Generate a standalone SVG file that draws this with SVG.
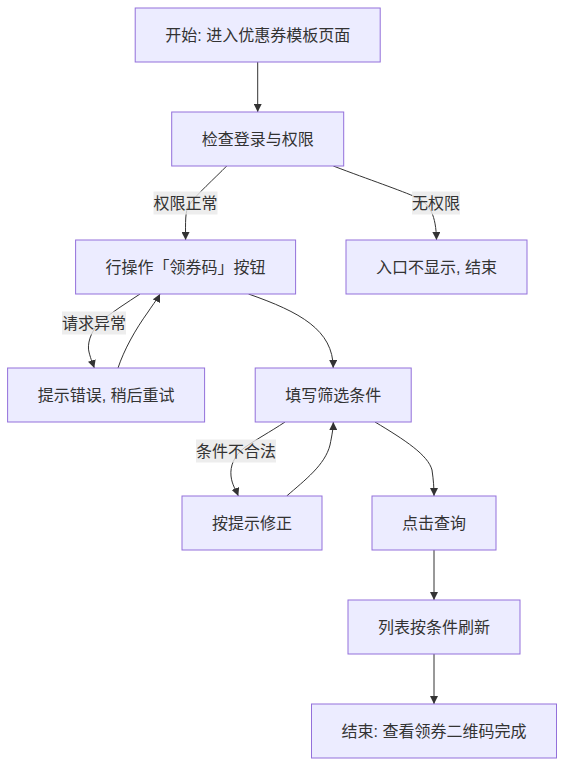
<svg xmlns="http://www.w3.org/2000/svg" width="564" height="766" viewBox="0 0 564 766">
<style>
.node rect{fill:#ECECFF;stroke:#9370DB;stroke-width:1}
text{font-family:"Liberation Sans","Noto Sans CJK SC",sans-serif;font-size:16px;fill:#333;text-anchor:middle;dominant-baseline:central}
.edge{fill:none;stroke:#333;stroke-width:1}
.lbl rect{fill:#e8e8e8;fill-opacity:0.8;stroke:none}
</style>
<defs>
<marker id="arr" viewBox="0 0 10 10" refX="10" refY="5" markerWidth="8" markerHeight="8" markerUnits="userSpaceOnUse" orient="auto">
<path d="M0,0 L10,5 L0,10 z" fill="#333"/>
</marker>
</defs>
<rect width="564" height="766" fill="#fff"/>
<g id="edges">
<path class="edge" d="M257.7,62 L257.7,112" marker-end="url(#arr)"/>
<path class="edge" d="M226.7,166 C215,178 196,195 189,205 C185,211 185.5,222 185.6,240" marker-end="url(#arr)"/>
<path class="edge" d="M333.3,166 C370,180 400,190 418,198 C430,205 436,215 436.5,240" marker-end="url(#arr)"/>
<path class="edge" d="M140,294 C128,302 112,312 100,322 C90,332 87,345 89,352 C91,360 93,364 94.3,368" marker-end="url(#arr)"/>
<path class="edge" d="M118,368 C124,350 135,330 148,312 C154,303 158,298 160,294" marker-end="url(#arr)"/>
<path class="edge" d="M248.5,294 C300,312 333.2,330 333.2,368" marker-end="url(#arr)"/>
<path class="edge" d="M285,422 C270,432 255,440 244,448 C234,456 230,466 231,476 C232,485 236,490 238.3,496" marker-end="url(#arr)"/>
<path class="edge" d="M286.7,496 C305,480 325,465 330,445 C332,435 333.3,428 333.3,422" marker-end="url(#arr)"/>
<path class="edge" d="M375,422 C405,440 428,455 432,470 C433.5,480 434,488 434,496" marker-end="url(#arr)"/>
<path class="edge" d="M434,550 L434,600" marker-end="url(#arr)"/>
<path class="edge" d="M434,654 L434,704" marker-end="url(#arr)"/>
<g class="lbl"><rect x="153.5" y="191.5" width="64" height="23"/><text x="185.5" y="203">权限正常</text></g>
<g class="lbl"><rect x="412" y="191.5" width="48" height="23"/><text x="436" y="203">无权限</text></g>
<g class="lbl"><rect x="62" y="311.5" width="64" height="23"/><text x="94" y="323">请求异常</text></g>
<g class="lbl"><rect x="196" y="439.5" width="80" height="23"/><text x="236" y="451">条件不合法</text></g>
</g>
<g id="A" class="node"><rect x="135.2" y="8" width="245" height="54"/><text x="257.7" y="35">开始: 进入优惠券模板页面</text></g>
<g id="B" class="node"><rect x="171.7" y="112" width="172" height="54"/><text x="257.7" y="139">检查登录与权限</text></g>
<g id="C" class="node"><rect x="75.6" y="240" width="220" height="54"/><text x="185.6" y="267">行操作「领券码」按钮</text></g>
<g id="D" class="node"><rect x="346" y="240" width="181" height="54"/><text x="436.5" y="267">入口不显示, 结束</text></g>
<g id="E" class="node"><rect x="7.6" y="368" width="197" height="54"/><text x="106.1" y="395">提示错误, 稍后重试</text></g>
<g id="F" class="node"><rect x="255.2" y="368" width="156" height="54"/><text x="333.2" y="395">填写筛选条件</text></g>
<g id="G" class="node"><rect x="182" y="496" width="140" height="54"/><text x="252" y="523">按提示修正</text></g>
<g id="H" class="node"><rect x="372" y="496" width="124" height="54"/><text x="434" y="523">点击查询</text></g>
<g id="I" class="node"><rect x="348" y="600" width="172" height="54"/><text x="434" y="627">列表按条件刷新</text></g>
<g id="J" class="node"><rect x="311.5" y="704" width="245" height="54"/><text x="434" y="731">结束: 查看领券二维码完成</text></g>
</svg>
